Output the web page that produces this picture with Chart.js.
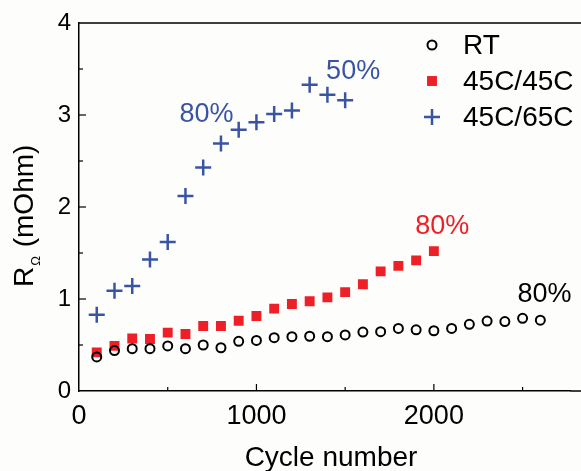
<!DOCTYPE html>
<html>
<head>
<meta charset="utf-8">
<script src="https://cdn.jsdelivr.net/npm/chart.js@4/dist/chart.umd.min.js"></script>
<style>
  html, body { margin: 0; padding: 0; background: #fdfdfb; }
  #wrap { width: 581px; height: 471px; }
</style>
</head>
<body>
<div id="wrap"><canvas id="chart" width="581" height="471"></canvas></div>
<script>
// cycle numbers
const cyclesRT = [100,200,300,400,500,600,700,800,900,1000,1100,1200,1300,1400,1500,1600,1700,1800,1900,2000,2100,2200,2300,2400,2500,2600];
const cycles4545 = [100,200,300,400,500,600,700,800,900,1000,1100,1200,1300,1400,1500,1600,1700,1800,1900,2000];
const cycles4565 = [100,200,300,400,500,600,700,800,900,1000,1100,1200,1300,1400,1500];

// R_ohm values (mOhm)
const rtValues = [0.37,0.44,0.46,0.46,0.49,0.46,0.50,0.47,0.54,0.55,0.58,0.59,0.595,0.59,0.61,0.64,0.645,0.68,0.665,0.655,0.68,0.725,0.76,0.755,0.79,0.77];
const v4545 = [0.42,0.49,0.57,0.565,0.634,0.62,0.707,0.707,0.764,0.815,0.895,0.946,0.975,1.018,1.075,1.16,1.30,1.36,1.42,1.52];
const v4565 = [0.83,1.09,1.14,1.43,1.62,2.12,2.43,2.69,2.84,2.92,3.01,3.05,3.33,3.22,3.16];

const seriesNames = ["RT", "45C/45C", "45C/65C"];
const xTicks = [0, 1000, 2000];
const yTicks = [0, 1, 2, 3, 4];

const BLUE = "#3a54a4";
const RED = "#ee1f26";
const FONT = "'Liberation Sans', Arial, sans-serif";

// text labels next to the curves (placed in data units)
const notes = [
  { text: "80%", color: BLUE, x: 718, y: 3.01 },
  { text: "50%", color: BLUE, x: 1545, y: 3.47 },
  { text: "80%", color: RED, x: 2047, y: 1.79 },
  { text: "80%", color: "#000", x: 2624, y: 1.05 }
];

const toPts = (xs, ys) => xs.map((x, i) => ({ x: x, y: ys[i] }));

const extras = {
  id: "extras",
  beforeDraw(chart) {
    const c = chart.ctx;
    c.save();
    c.fillStyle = "#fdfdfb";
    c.fillRect(0, 0, chart.width, chart.height);
    c.restore();
  },
  afterDraw(chart) {
    const c = chart.ctx;
    const xs = chart.scales.x, ys = chart.scales.y;
    const a = chart.chartArea;
    c.save();
    c.strokeStyle = "#000";
    c.lineWidth = 1.5;
    // frame runs off the right edge of the picture
    c.beginPath();
    c.moveTo(a.left, a.top);
    c.lineTo(chart.width, a.top);
    c.moveTo(a.right, a.bottom);
    c.lineTo(chart.width, a.bottom);
    c.stroke();
    // inward ticks
    c.lineWidth = 1.2;
    for (let v = 500; v < 2800; v += 500) {
      const px = xs.getPixelForValue(v);
      const len = v % 1000 === 0 ? 7 : 4;
      c.beginPath();
      c.moveTo(px, a.bottom);
      c.lineTo(px, a.bottom - len);
      c.stroke();
    }
    for (let v = 0.5; v < 4; v += 0.5) {
      const py = ys.getPixelForValue(v);
      const len = v % 1 === 0 ? 7 : 4;
      c.beginPath();
      c.moveTo(a.left, py);
      c.lineTo(a.left + len, py);
      c.stroke();
    }

    // notes
    c.font = "27px " + FONT;
    c.textAlign = "center";
    c.textBaseline = "middle";
    notes.forEach(n => {
      c.fillStyle = n.color;
      c.fillText(n.text, xs.getPixelForValue(n.x), ys.getPixelForValue(n.y));
    });

    // legend
    const rows = [45, 81, 117];
    chart.data.datasets.forEach((ds, i) => {
      c.save();
      c.fillStyle = ds.backgroundColor;
      c.strokeStyle = ds.borderColor;
      c.lineWidth = ds.borderWidth;
      Chart.helpers.drawPoint(c, {
        pointStyle: ds.pointStyle,
        radius: ds.pointRadius,
        rotation: 0,
        borderWidth: ds.borderWidth
      }, 432, rows[i]);
      c.restore();
      c.fillStyle = "#000";
      c.font = "28px " + FONT;
      c.textAlign = "left";
      c.textBaseline = "middle";
      c.fillText(ds.label, 463, rows[i] + 1);
    });

    // x title
    c.fillStyle = "#000";
    c.font = "28px " + FONT;
    c.textAlign = "center";
    c.textBaseline = "middle";
    c.fillText("Cycle number", 331, 458);

    // y title with subscript
    c.translate(33, 287);
    c.rotate(-Math.PI / 2);
    c.textAlign = "left";
    c.textBaseline = "alphabetic";
    c.font = "28px " + FONT;
    c.fillText("R", 0, 0);
    let w = c.measureText("R").width;
    c.font = "13px " + FONT;
    c.fillText("\u03A9", w + 1, 7);
    w += c.measureText("\u03A9").width + 2;
    c.font = "28px " + FONT;
    c.fillText(" (mOhm)", w, 0);
    c.restore();
  }
};

new Chart(document.getElementById("chart"), {
  type: "scatter",
  data: {
    datasets: [
      {
        label: seriesNames[0],
        data: toPts(cyclesRT, rtValues),
        pointStyle: "circle",
        pointRadius: 4.5,
        borderWidth: 2,
        borderColor: "#000",
        backgroundColor: "rgba(0,0,0,0)"
      },
      {
        label: seriesNames[1],
        data: toPts(cycles4545, v4545),
        pointStyle: "rect",
        pointRadius: 7,
        borderWidth: 0,
        borderColor: RED,
        backgroundColor: RED
      },
      {
        label: seriesNames[2],
        data: toPts(cycles4565, v4565),
        pointStyle: "cross",
        pointRadius: 8,
        borderWidth: 2.5,
        borderColor: BLUE,
        backgroundColor: BLUE
      }
    ]
  },
  options: {
    responsive: false,
    animation: false,
    layout: { padding: { top: 23, right: 0, left: 0, bottom: 0 } },
    plugins: { legend: { display: false }, tooltip: { enabled: false } },
    scales: {
      x: {
        type: "linear",
        min: 0,
        max: 2770,
        afterBuildTicks: s => { s.ticks = xTicks.map(v => ({ value: v })); },
        afterFit: s => { s.height = 80; s.paddingLeft = 0; s.paddingRight = 0; },
        grid: { display: false, drawTicks: false },
        border: { display: true, color: "#000", width: 1.5 },
        ticks: { color: "#000", font: { family: FONT, size: 27 }, padding: 9, maxRotation: 0, callback: v => String(v) }
      },
      y: {
        min: 0,
        max: 4,
        afterBuildTicks: s => { s.ticks = yTicks.map(v => ({ value: v })); },
        afterFit: s => { s.width = 79; },
        grid: { display: false, drawTicks: false },
        border: { display: true, color: "#000", width: 1.5 },
        ticks: { color: "#000", font: { family: FONT, size: 24 }, padding: 8, callback: v => String(v) }
      }
    }
  },
  plugins: [extras]
});
</script>
</body>
</html>
